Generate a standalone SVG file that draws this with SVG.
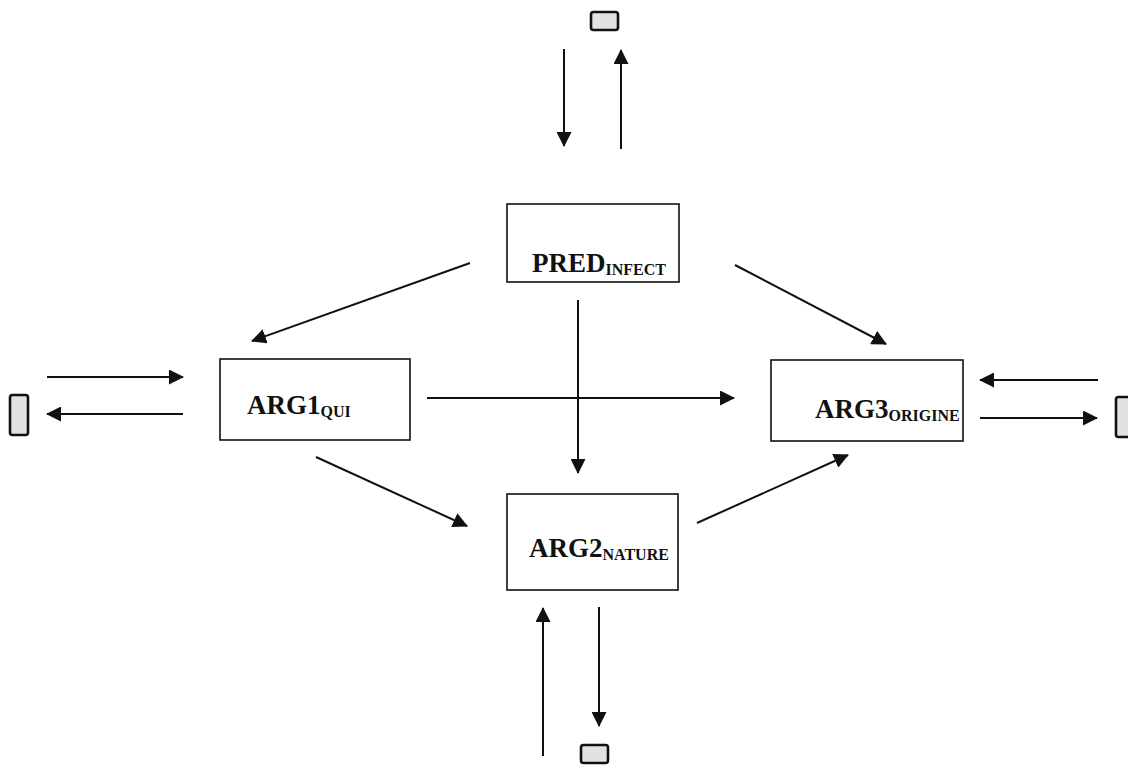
<svg xmlns="http://www.w3.org/2000/svg" width="1128" height="765" viewBox="0 0 1128 765">
<style>
.box{fill:#fff;stroke:#111;stroke-width:1.6}
.stub{fill:#e2e2e2;stroke:#111;stroke-width:2.6}
.lbl{font-family:"Liberation Serif","Times New Roman",serif;font-weight:bold;font-size:27px;fill:#111}
.sub{font-size:16px}
.conn line{stroke:#111;stroke-width:2;marker-end:url(#ah)}
</style>
<defs>
<marker id="ah" markerWidth="15" markerHeight="15" refX="14" refY="7.5" orient="auto" markerUnits="userSpaceOnUse">
<path d="M0,0 L15,7.5 L0,15 z" fill="#111"/>
</marker>
</defs>
<rect width="1128" height="765" fill="#fff"/>
<g id="pred"><rect class="box" x="507" y="204" width="172" height="78"/><text class="lbl" x="532" y="272">PRED<tspan class="sub" dy="3">INFECT</tspan></text></g>
<g id="arg1"><rect class="box" x="220" y="359" width="190" height="81"/><text class="lbl" x="247" y="414">ARG1<tspan class="sub" dy="3">QUI</tspan></text></g>
<g id="arg3"><rect class="box" x="771" y="360" width="192" height="81"/><text class="lbl" x="815" y="418">ARG3<tspan class="sub" dy="3">ORIGINE</tspan></text></g>
<g id="arg2"><rect class="box" x="507" y="494" width="171" height="96"/><text class="lbl" x="529" y="557">ARG2<tspan class="sub" dy="3">NATURE</tspan></text></g>
<g id="stub-top"><rect class="stub" x="591" y="12" width="27" height="18" rx="2.5"/></g>
<g id="stub-left"><rect class="stub" x="10" y="395" width="18" height="40" rx="2.5"/></g>
<g id="stub-right"><rect class="stub" x="1116" y="397" width="18" height="40" rx="2.5"/></g>
<g id="stub-bottom"><rect class="stub" x="581" y="745" width="27" height="18" rx="2.5"/></g>
<g class="conn">
<line x1="564" y1="49" x2="564" y2="146"/>
<line x1="621" y1="149" x2="621" y2="50"/>
<line x1="47" y1="377" x2="183" y2="377"/>
<line x1="183" y1="414" x2="47" y2="414"/>
<line x1="1098" y1="380" x2="980" y2="380"/>
<line x1="980" y1="418" x2="1097" y2="418"/>
<line x1="543" y1="756" x2="543" y2="608"/>
<line x1="599" y1="607" x2="599" y2="726"/>
<line x1="470" y1="263" x2="252" y2="341"/>
<line x1="735" y1="265" x2="886" y2="344"/>
<line x1="578" y1="300" x2="578" y2="473"/>
<line x1="427" y1="398" x2="734" y2="398"/>
<line x1="316" y1="457" x2="467" y2="526"/>
<line x1="697" y1="523" x2="848" y2="455"/>
</g>
</svg>
